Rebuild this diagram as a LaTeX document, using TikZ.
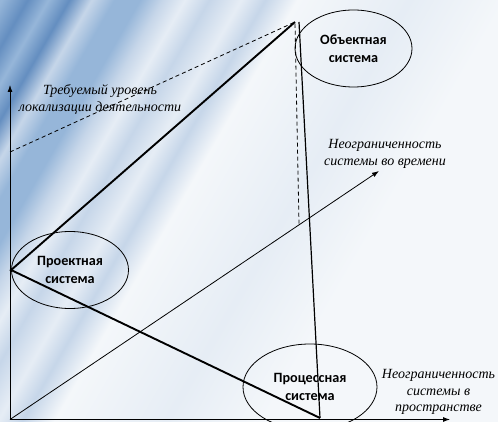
\documentclass[tikz,border=0pt]{standalone}
\usepackage{fontspec}
\usetikzlibrary{arrows.meta,shapes.geometric}
\newfontfamily\calib{Carlito}
\newfontfamily\tnr{Liberation Serif}
\definecolor{bgdark}{RGB}{100,142,192}
\definecolor{bgmid}{RGB}{150,182,217}
\definecolor{bglight}{RGB}{198,214,233}
\definecolor{bgpale}{RGB}{230,237,245}
\definecolor{bgwhite}{RGB}{244,247,250}
\pgfdeclarehorizontalshading{streaks}{100bp}{color(0bp)=(bgdark); color(26.6bp)=(bgmid); color(28.2bp)=(bgdark); color(29.5bp)=(bgmid); color(30.8bp)=(bgdark); color(32.2bp)=(bglight); color(33.6bp)=(bgmid); color(35.2bp)=(bgmid); color(36.6bp)=(bglight); color(38bp)=(bgpale); color(39.5bp)=(bglight); color(41.5bp)=(bgpale); color(43bp)=(bglight); color(45bp)=(bgwhite); color(52bp)=(bgpale); color(58bp)=(bgwhite); color(100bp)=(bgwhite)}

\begin{document}
\begin{tikzpicture}[x=1pt,y=1pt,
  sys/.style={draw,ellipse,line width=0.8pt,minimum width=117pt,minimum height=77pt,inner sep=0pt,align=center,font=\calib\bfseries\fontsize{14.2}{18}\selectfont},
  lab/.style={align=center,font=\tnr\itshape\fontsize{14}{16.5}\selectfont},
  axis/.style={line width=0.8pt,-{Latex[length=7pt,width=5pt]}}]
  \useasboundingbox (0,0) rectangle (498,421);
  \begin{scope}
    \clip (0,0) rectangle (498,421);
    \shade[shading=streaks,shading angle=-30] (-100,-150) rectangle (600,550);
  \end{scope}
  \coordinate(o) at (10,1.5);
  \coordinate(v) at (10,336);
  \coordinate(h) at (450,1.5);
  \coordinate(d) at (379,250);
  \coordinate(t) at (295,399);
  \coordinate(t2) at (299,399);
  \coordinate(r) at (320,3);
  \coordinate(q) at (10,269);
  \coordinate(s) at (299,197);
  \node[sys](obj) at (353.5,372.5){Объектная\\система};
  \node[sys](proj) at (70,151){Проектная\\система};
  \node[sys,minimum width=134pt,minimum height=86pt](proc) at (310,34){Процессная\\система};
  \node[lab](l1) at (100,321.5){Требуемый уровень\\локализации деятельности};
  \node[lab](l2) at (385,267){Неограниченность\\системы во времени};
  \node[lab](l3) at (438.5,29){Неограниченность\\системы в\\пространстве};
  \draw[axis] (o)--(v);
  \draw[axis] (o)--(h);
  \draw[axis] (o)--(d);
  \draw[dash pattern=on 4pt off 3pt,line width=0.8pt] (q)--(t)--(s);
  \draw[line width=1.9pt] (t)--(proj.west)--(r);
  \draw[line width=1.2pt] (t2)--(r);
\end{tikzpicture}
\end{document}
